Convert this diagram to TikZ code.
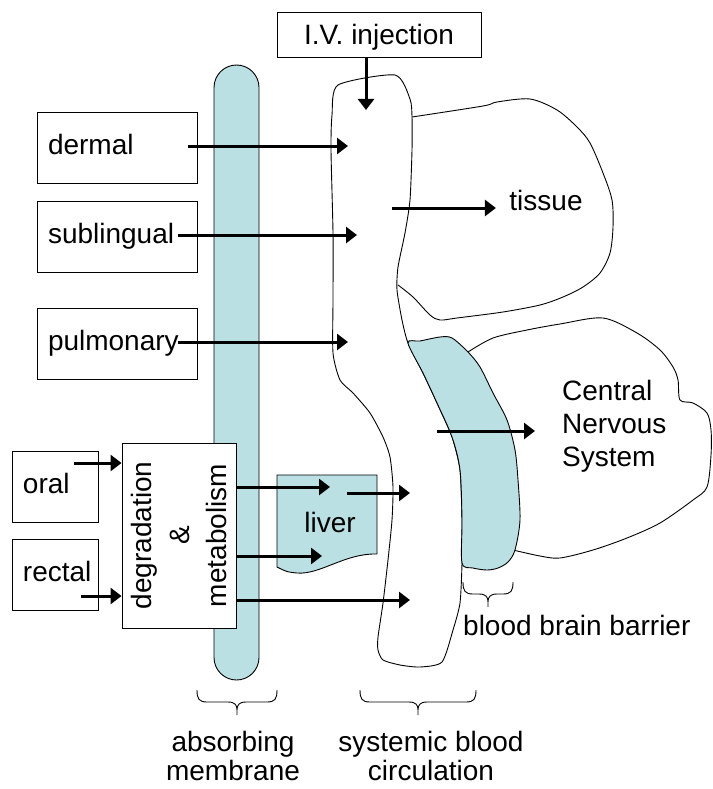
\documentclass[tikz,border=0pt]{standalone}
\usepackage{fontspec}
\setmainfont{Liberation Sans}
\usetikzlibrary{arrows.meta}

\definecolor{membraneblue}{RGB}{186,224,228}

% curly brace pointing down: left x, right x, top y
\newcommand{\downbrace}[3]{%
  \pgfmathsetmacro{\bracemid}{(#1+#2)/2}
  \draw[outline] (#1,#3) .. controls (#1,#3+9) and (#1+2,#3+12) .. (#1+10,#3+12)
    -- (\bracemid-9,#3+12) .. controls (\bracemid-2,#3+12) and (\bracemid,#3+15) .. (\bracemid,#3+20)
    -- (\bracemid,#3+25) -- (\bracemid,#3+20)
    .. controls (\bracemid,#3+15) and (\bracemid+2,#3+12) .. (\bracemid+9,#3+12)
    -- (#2-10,#3+12) .. controls (#2-2,#3+12) and (#2,#3+9) .. (#2,#3);}

\begin{document}
\begin{tikzpicture}[x=1pt, y=-1pt,
    every node/.style={font=\fontsize{28}{33}\selectfont},
    flow/.style={-{Triangle[length=11pt,width=16pt]}, line width=3pt},
    outline/.style={line width=0.9pt},
    bluefill/.style={draw, outline, fill=membraneblue},
    routebox/.style={draw, outline, fill=white, minimum height=71pt,
      inner xsep=11pt, inner ysep=0pt, align=left, execute at begin node=\strut}]

    \useasboundingbox (0,0) rectangle (712,789);

    % ==================================================
    % absorbing membrane
    % ==================================================
    \draw[bluefill, rounded corners=22.5pt] (214,65) rectangle (259,680);

    % ==================================================
    % tissue, central nervous system
    % ==================================================
    \draw[outline] plot[smooth, tension=0.5] coordinates {
      (412,117) (483,106) (497,102) (530,99) (557,110) (577,127) (590,143)
      (603,173) (612,200) (613,227) (610,253) (600,273) (583,287) (563,297)
      (540,305) (503,312) (457,318) (440,320) (430,315) (413,297) (398,285)};

    \draw[outline] plot[smooth, tension=0.5] coordinates {
      (468,352) (493,338) (527,330) (560,324) (603,318) (637,333) (660,350)
      (673,367) (678,380) (680,400) (693,403) (707,413) (711,430) (711,455)
      (707,487) (693,500) (660,523) (627,538) (593,550) (560,558) (540,556)
      (513,550)};

    % ==================================================
    % systemic blood circulation
    % ==================================================
    \draw[outline, fill=white] plot[smooth cycle, tension=0.4] coordinates {
      (338,85) (395,75) (410,99) (412,117) (412,150) (410,200) (405,233)
      (398,267) (397,290) (402,320) (408,343) (423,373) (437,403) (452,437)
      (460,470) (462,520) (462,563) (460,603) (453,630) (442,662) (420,667)
      (400,665) (383,660) (378,650) (378,637) (383,603) (388,560) (392,520)
      (393,487) (390,457) (383,437) (370,413) (353,393) (340,380) (333,353)
      (333,300) (333,233) (331,150) (332,115)};

    % blood brain barrier
    \draw[bluefill] plot[smooth cycle, tension=0.5] coordinates {
      (408,343) (420,341) (440,337) (452,338) (468,352) (480,367) (493,393)
      (507,420) (515,450) (518,480) (520,520) (515,550) (508,562) (498,568)
      (487,570) (473,568) (462,563) (462,520) (460,470) (452,437) (437,403)
      (423,373)};

    % liver
    \draw[bluefill] (277,475) -- (377,475) -- (377,554)
      .. controls (345,553) and (320,575) .. (297,573)
      .. controls (287,572) .. (277,567) -- cycle;
    \node (liver) at (330,522) {liver};

    % ==================================================
    % routes of administration
    % ==================================================
    \node[draw, outline, fill=white, minimum width=204pt, minimum height=45pt,
      inner ysep=0pt, text depth=0pt] (iv) at (379,34.5) {I.V. injection};

    \node[routebox, text width=138pt] (dermal) at (117,147.5) {dermal};
    \node[routebox, text width=138pt] (sublingual) at (117,236.5) {sublingual};
    \node[routebox, text width=138pt] (pulmonary) at (117,343.5) {pulmonary};
    \node[routebox, text width=64pt] (oral) at (55,486.5) {oral};
    \node[routebox, text width=64pt] (rectal) at (55,574.5) {rectal};

    \node[draw, outline, fill=white, rotate=90, minimum width=185pt,
      minimum height=114pt, inner sep=3pt, align=center]
      (degrad) at (179,535.5) {degradation\\[4.5pt]\&\\[4.5pt]metabolism};

    % ==================================================
    % arrows
    % ==================================================
    \coordinate (ivIn) at (366,110);
    \coordinate (vDermal) at (348,146);
    \coordinate (vSub) at (357,235);
    \coordinate (vPulm) at (348,342);
    \coordinate (oralIn) at (0,463);
    \coordinate (rectalIn) at (0,596);
    \coordinate (toLiverA) at (330,487);
    \coordinate (toLiverB) at (322,556);
    \coordinate (vDeg) at (410,600);
    \coordinate (liverOut) at (347,493);
    \coordinate (vLiver) at (410,493);
    \coordinate (vTissue) at (392,208);
    \coordinate (vCNS) at (437,431);

    \draw[flow] (ivIn |- iv.south) -- (ivIn);
    \draw[flow] ([xshift=-9pt]vDermal -| dermal.east) -- (vDermal);
    \draw[flow] ([xshift=-19pt]vSub -| sublingual.east) -- (vSub);
    \draw[flow] ([xshift=-19pt]vPulm -| pulmonary.east) -- (vPulm);
    \draw[flow] ([xshift=-24pt]oralIn -| oral.east) -- (oralIn -| degrad.north);
    \draw[flow] ([xshift=-17pt]rectalIn -| rectal.east) -- (rectalIn -| degrad.north);
    \draw[flow] (toLiverA -| degrad.south) -- (toLiverA);
    \draw[flow] (toLiverB -| degrad.south) -- (toLiverB);
    \draw[flow] (vDeg -| degrad.south) -- (vDeg);
    \draw[flow] (liverOut) -- (vLiver);

    % tissue, CNS
    \node (tissue) at (546,200) {tissue};
    \node[anchor=west, align=left, inner sep=0pt] (cns) at (562,426.5)
      {Central\\Nervous\\System};
    \draw[flow] (vTissue) -- ([xshift=-10pt]tissue.west |- vTissue);
    \draw[flow] (vCNS) -- ([xshift=-27pt]cns.west |- vCNS);

    % ==================================================
    % braces and labels
    % ==================================================
    \downbrace{463}{513}{582}
    \node[anchor=west, inner sep=0pt] (bbb) at (463,625) {blood brain barrier};

    \downbrace{197}{277}{690}
    \downbrace{360}{476}{690}
    \node[align=center] (absorb) at (233,756) {absorbing\\[-4pt]membrane};
    \node[align=center] (systemic) at (431,756) {systemic blood\\[-4pt]circulation};

  \end{tikzpicture}
\end{document}
